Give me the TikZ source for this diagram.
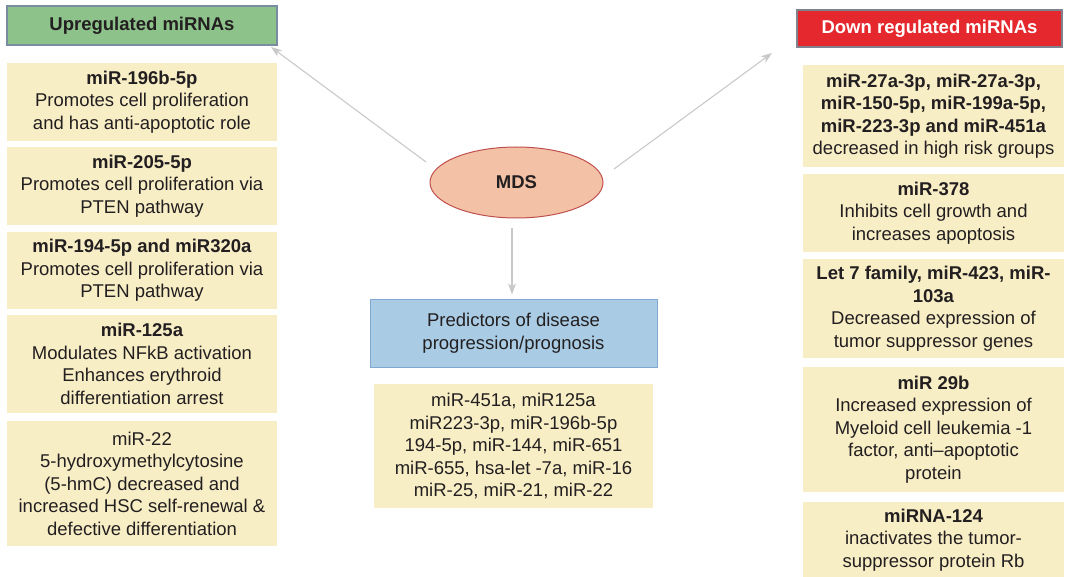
\documentclass[tikz,border=0pt]{standalone}
\usepackage{fontspec}
\setmainfont{Liberation Sans}
\usetikzlibrary{arrows.meta,shapes.geometric}
\definecolor{txt}{HTML}{231F20}
\definecolor{cream}{HTML}{F8EEC6}
\definecolor{upgreen}{HTML}{8DC38B}
\definecolor{upedge}{HTML}{7A8DA0}
\definecolor{downred}{HTML}{E5282D}
\definecolor{downedge}{HTML}{80828E}
\definecolor{predblue}{HTML}{A9CCE4}
\definecolor{prededge}{HTML}{80A8D0}
\definecolor{mdsfill}{HTML}{F2C1A6}
\definecolor{mdsedge}{HTML}{C0504D}
\definecolor{arrowgray}{HTML}{C9C9C9}
\tikzset{
  body/.style={font=\fontsize{18.5}{22.5}\selectfont, text=txt, align=center, inner sep=0pt},
  infobox/.style={body, fill=cream, minimum width=#1},
  leftbox/.style={infobox=270pt},
  rightbox/.style={infobox=261pt},
  header/.style={body, font=\fontsize{18.5}{22.5}\selectfont\bfseries, line width=1.2pt},
  arr/.style={draw=arrowgray, line width=1.1pt, -{Stealth[length=11pt,width=8pt,inset=3pt]}}
}
\begin{document}
\begin{tikzpicture}[x=1pt,y=-1pt]
\useasboundingbox (0,0) rectangle (1065,577);
\begin{scope}
\clip (0,0) rectangle (1065,577);

% headers
\node[header, fill=upgreen, draw=upedge, minimum width=270pt, minimum height=39pt] (up) at (142,25.5) {Upregulated miRNAs};
\node[header, fill=downred, draw=downedge, text=white, minimum width=265pt, minimum height=37pt] (down) at (929.5,28.5) {Down regulated miRNAs};

% upregulated column
\node[leftbox, minimum height=78pt] (l1) at (142,102) {\textbf{miR-196b-5p}\\Promotes cell proliferation\\and has anti-apoptotic role};
\node[leftbox, minimum height=78pt] (l2) at (142,186) {\textbf{miR-205-5p}\\Promotes cell proliferation via\\PTEN pathway};
\node[leftbox, minimum height=77pt] (l3) at (142,270.5) {\textbf{miR-194-5p and miR320a}\\Promotes cell proliferation via\\PTEN pathway};
\node[leftbox, minimum height=98pt] (l4) at (142,364) {\textbf{miR-125a}\\Modulates NFkB activation\\Enhances erythroid\\differentiation arrest};
\node[leftbox, minimum height=125pt] (l5) at (142,483.5) {miR-22\\5-hydroxymethylcytosine\\(5-hmC) decreased and\\increased HSC self-renewal \&\\defective differentiation};

% down regulated column
\node[rightbox, minimum height=102pt] (r1) at (933.5,116) {\textbf{miR-27a-3p, miR-27a-3p,}\\\textbf{miR-150-5p, miR-199a-5p,}\\\textbf{miR-223-3p and miR-451a}\\decreased in high risk groups};
\node[rightbox, minimum height=78pt] (r2) at (933.5,213) {\textbf{miR-378}\\Inhibits cell growth and\\increases apoptosis};
\node[rightbox, minimum height=99pt] (r3) at (933.5,308.5) {\textbf{Let 7 family, miR-423, miR-}\\\textbf{103a}\\Decreased expression of\\tumor suppressor genes};
\node[rightbox, minimum height=125pt] (r4) at (933.5,429.5) {\textbf{miR 29b}\\Increased expression of\\Myeloid cell leukemia -1\\factor, anti--apoptotic\\protein};
\node[rightbox, minimum height=77pt] (r5) at (933.5,540) {\textbf{miRNA-124}\\inactivates the tumor-\\suppressor protein Rb};

% centre
\node[body, ellipse, fill=mdsfill, draw=mdsedge, line width=1pt, minimum width=173pt, minimum height=71pt, font=\fontsize{18.5}{22.5}\selectfont\bfseries] (mds) at (516.5,182.5) {MDS};
\node[body, fill=predblue, draw=prededge, line width=1pt, minimum width=287pt, minimum height=68pt] (pred) at (513.5,333) {Predictors of disease\\progression/prognosis};
\node[body, fill=cream, minimum width=279pt, minimum height=124pt] (list) at (513.5,446) {miR-451a, miR125a\\miR223-3p, miR-196b-5p\\194-5p, miR-144, miR-651\\miR-655, hsa-let -7a, miR-16\\miR-25, miR-21, miR-22};

% connectors
\coordinate (upstart) at (426,162);
\coordinate (upend) at (271,47);
\coordinate (downstart) at (614,169);
\coordinate (downend) at (772,53);
\draw[arr] (upstart) -- (upend);
\draw[arr] (downstart) -- (downend);
\draw[arr, shorten <=10pt, shorten >=4pt] (mds.south -| pred.north) ++(-1.5,0) -- ([xshift=-1.5pt]pred.north);
\end{scope}
\end{tikzpicture}
\end{document}
